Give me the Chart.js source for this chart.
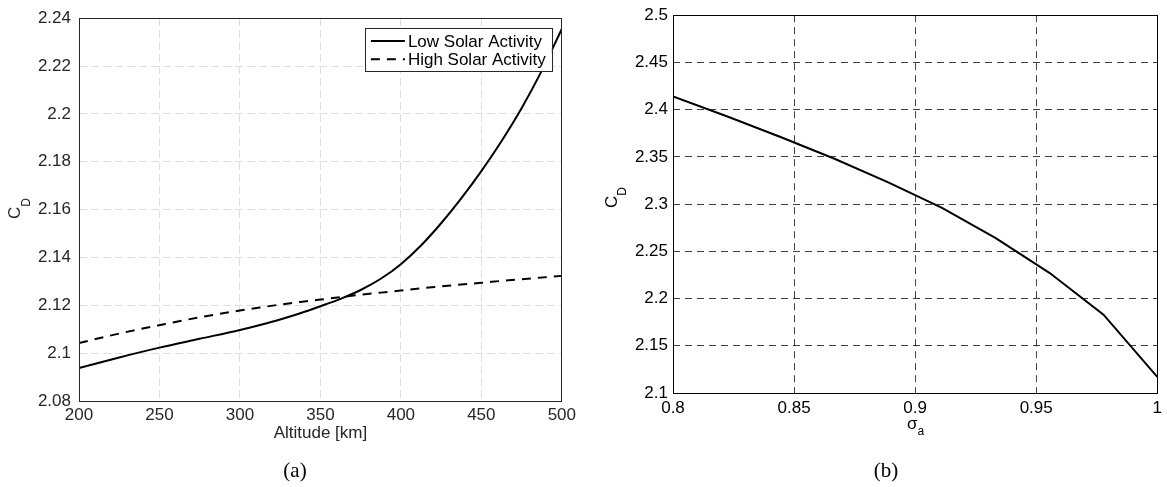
<!DOCTYPE html>
<html><head><meta charset="utf-8">
<script src="https://cdn.jsdelivr.net/npm/chart.js@4.4.1/dist/chart.umd.min.js"></script>
<style>
html,body{margin:0;padding:0;background:#fff;width:1167px;height:487px;overflow:hidden;}
#wrap{position:relative;width:1167px;height:487px;}
canvas{position:absolute;top:0;}
.lbl{position:absolute;white-space:nowrap;line-height:1;font-family:"Liberation Sans",Arial,sans-serif;}
.rot{transform:rotate(-90deg);transform-origin:0 0;}
.sub{position:relative;}
.cap{position:absolute;font-family:"Liberation Serif","Times New Roman",serif;font-size:21px;line-height:1;transform:translate(-50%,-50%);color:#000;}
</style></head><body>
<div id="wrap">
<canvas id="c1" width="580" height="487" style="left:0;width:580px;height:487px"></canvas>
<canvas id="c2" width="587" height="487" style="left:580px;width:587px;height:487px"></canvas>
<div class="lbl rot" style="left:6px;top:219px;font-size:17px;color:#262626">C<span class="sub" style="font-size:12px;top:10px">D</span></div>
<div class="lbl rot" style="left:603px;top:208px;font-size:17px;color:#000">C<span class="sub" style="font-size:12px;top:9px">D</span></div>
<div class="lbl" style="left:907px;top:415px;font-size:17px;color:#000">σ<span class="sub" style="font-size:12px;top:6px">a</span></div>
<div class="cap" style="left:295px;top:470px">(a)</div>
<div class="cap" style="left:886px;top:470px">(b)</div>
</div>
<script>
// ---- Left chart data: drag coefficient vs altitude ----
const altitudeKm = [200, 225, 250, 275, 300, 312.5, 325, 337.5, 350, 362.5, 375, 387.5, 400, 412.5, 425, 437.5, 450, 462.5, 475, 487.5, 500];
const lowSolarCd = [2.0938, 2.0982, 2.1023, 2.1060, 2.1097, 2.1118, 2.1141, 2.1167, 2.1196, 2.1227, 2.1264, 2.1311, 2.1372, 2.1450, 2.1543, 2.1647, 2.1761, 2.1886, 2.2024, 2.2180, 2.2355];
const highSolarCd = [2.1042, 2.1082, 2.1117, 2.1150, 2.1178, 2.1191, 2.1203, 2.1214, 2.1224, 2.1234, 2.1244, 2.1253, 2.1262, 2.1271, 2.1279, 2.1287, 2.1294, 2.1302, 2.1309, 2.1316, 2.1323];
const leftXTicks = [200, 250, 300, 350, 400, 450, 500];
const leftXTickLabels = ['200', '250', '300', '350', '400', '450', '500'];
const leftYTicks = [2.08, 2.10, 2.12, 2.14, 2.16, 2.18, 2.20, 2.22, 2.24];
const leftYTickLabels = ['2.08', '2.1', '2.12', '2.14', '2.16', '2.18', '2.2', '2.22', '2.24'];
const leftSeriesLabels = ['Low Solar Activity', 'High Solar Activity'];
const leftXTitle = 'Altitude [km]';

// ---- Right chart data: drag coefficient vs accommodation coefficient ----
const sigmaA = [0.8, 0.8222, 0.8444, 0.8667, 0.8889, 0.9111, 0.9333, 0.9556, 0.9778, 1.0];
const cdSigma = [2.414, 2.393, 2.371, 2.348, 2.323, 2.296, 2.264, 2.227, 2.183, 2.117];
const rightXTicks = [0.8, 0.85, 0.9, 0.95, 1.0];
const rightXTickLabels = ['0.8', '0.85', '0.9', '0.95', '1'];
const rightYTicks = [2.1, 2.15, 2.2, 2.25, 2.3, 2.35, 2.4, 2.45, 2.5];
const rightYTickLabels = ['2.1', '2.15', '2.2', '2.25', '2.3', '2.35', '2.4', '2.45', '2.5'];

Chart.defaults.font.family = '"Liberation Sans", Arial, sans-serif';
Chart.defaults.font.size = 17;

const al = p => Math.round(p - 0.5) + 0.5;
const boxPlugin = {
  id: 'box',
  afterDraw(chart, args, opts) {
    const {ctx, chartArea: a} = chart;
    const x1 = al(a.left), x2 = al(a.right), y1 = al(a.top), y2 = al(a.bottom);
    ctx.save();
    ctx.setLineDash([]);
    ctx.lineWidth = 1;
    ctx.strokeStyle = opts.color || '#000';
    ctx.strokeRect(x1, y1, x2 - x1, y2 - y1);
    ctx.restore();
  }
};

const legendBox = {
  id: 'legendBox',
  afterDraw(chart) {
    const {ctx, chartArea: a} = chart;
    const ds = chart.data.datasets;
    ctx.save();
    ctx.font = '17px "Liberation Sans", Arial, sans-serif';
    const tw = Math.max(...ds.map(d => ctx.measureText(d.label).width));
    const w = 6 + 34 + 3 + tw + 6, h = 43;
    const right = a.right - 10, top = a.top + 10, left = right - w;
    ctx.fillStyle = '#fff';
    ctx.fillRect(left, top, w, h);
    ctx.setLineDash([]);
    ctx.lineWidth = 1;
    ctx.strokeStyle = '#262626';
    ctx.strokeRect(Math.round(left) + 0.5, Math.round(top) + 0.5, Math.round(w), h);
    ds.forEach((d, i) => {
      const y = top + 12.7 + i * 18.3;
      ctx.beginPath();
      ctx.setLineDash(d.borderDash || []);
      ctx.lineWidth = d.borderWidth;
      ctx.strokeStyle = d.borderColor;
      ctx.moveTo(left + 6, y);
      ctx.lineTo(left + 40, y);
      ctx.stroke();
      ctx.setLineDash([]);
      ctx.fillStyle = '#000';
      ctx.textBaseline = 'middle';
      ctx.textAlign = 'left';
      ctx.fillText(d.label, left + 43, y + 1);
    });
    ctx.restore();
  }
};

const pts = (xs, ys) => xs.map((x, i) => ({x: x, y: ys[i]}));

new Chart(document.getElementById('c1'), {
  type: 'line',
  data: {
    datasets: [
      {label: leftSeriesLabels[0], data: pts(altitudeKm, lowSolarCd), borderColor: '#000', borderWidth: 2,
       pointRadius: 0, cubicInterpolationMode: 'monotone', fill: false},
      {label: leftSeriesLabels[1], data: pts(altitudeKm, highSolarCd), borderColor: '#000', borderWidth: 2,
       borderDash: [9, 7], pointRadius: 0, cubicInterpolationMode: 'monotone', fill: false}
    ]
  },
  options: {
    responsive: false, animation: false, devicePixelRatio: 1,
    layout: {padding: {top: 14, right: 11, left: 0, bottom: 0}, autoPadding: false},
    plugins: {legend: {display: false}, tooltip: {enabled: false}, box: {color: '#262626'}},
    scales: {
      x: {
        type: 'linear', min: 200, max: 500,
        afterBuildTicks: s => { s.ticks = leftXTicks.map(v => ({value: v})); },
        ticks: {callback: (v, i) => leftXTickLabels[i], color: '#262626', padding: 4, maxRotation: 0, autoSkip: false},
        grid: {color: '#dedede', drawTicks: false, lineWidth: 1},
        border: {display: false, dash: [8, 4]},
        title: {display: true, text: leftXTitle, color: '#262626', padding: {top: 0, bottom: 43}},
        afterFit: s => { s.height = 86; }
      },
      y: {
        type: 'linear', min: 2.08, max: 2.24,
        afterBuildTicks: s => { s.ticks = leftYTicks.map(v => ({value: v})); },
        ticks: {callback: (v, i) => leftYTickLabels[i], color: '#262626', padding: 8, autoSkip: false},
        grid: {color: '#dedede', drawTicks: false, lineWidth: 1},
        border: {display: false, dash: [8, 4]},
        afterFit: s => { s.width = 79; }
      }
    }
  },
  plugins: [boxPlugin, legendBox]
});

new Chart(document.getElementById('c2'), {
  type: 'line',
  data: {
    datasets: [
      {label: 'C_D', data: pts(sigmaA, cdSigma), borderColor: '#000', borderWidth: 2,
       pointRadius: 0, tension: 0, fill: false}
    ]
  },
  options: {
    responsive: false, animation: false, devicePixelRatio: 1,
    layout: {padding: {top: 5, right: 2, left: 0, bottom: 0}, autoPadding: false},
    plugins: {legend: {display: false}, tooltip: {enabled: false}, box: {color: '#000'}},
    scales: {
      x: {
        type: 'linear', min: 0.8, max: 1.0,
        afterBuildTicks: s => { s.ticks = rightXTicks.map(v => ({value: v})); },
        ticks: {callback: (v, i) => rightXTickLabels[i], color: '#000', padding: 5, maxRotation: 0, autoSkip: false},
        grid: {color: 'rgba(0,0,0,0.75)', drawTicks: false, lineWidth: 1},
        border: {display: false, dash: [7, 5]},
        afterFit: s => { s.height = 94; }
      },
      y: {
        type: 'linear', min: 2.1, max: 2.5,
        afterBuildTicks: s => { s.ticks = rightYTicks.map(v => ({value: v})); },
        ticks: {callback: (v, i) => rightYTickLabels[i], color: '#000', padding: 5, autoSkip: false},
        grid: {color: 'rgba(0,0,0,0.75)', drawTicks: false, lineWidth: 1},
        border: {display: false, dash: [7, 5]},
        afterFit: s => { s.width = 93; }
      }
    }
  },
  plugins: [boxPlugin]
});
</script>
</body></html>
